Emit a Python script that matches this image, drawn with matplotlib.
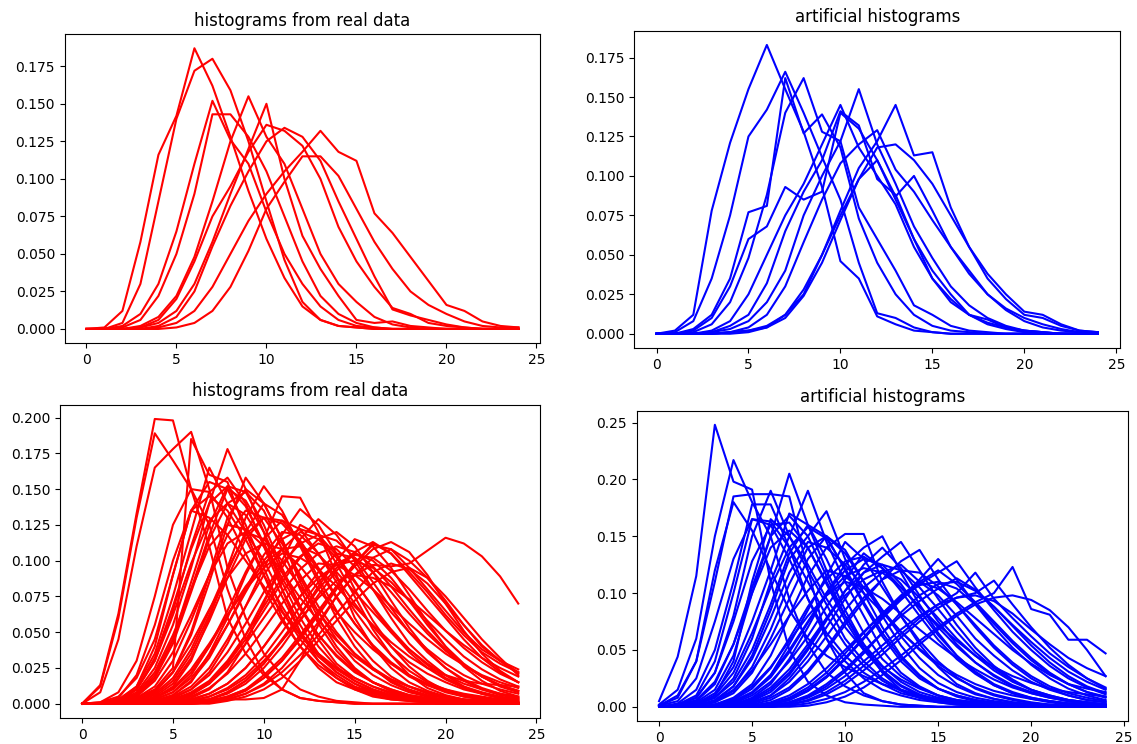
import matplotlib
matplotlib.use("Agg")
import matplotlib.pyplot as plt
import numpy as np

bins = np.arange(25)

# top-left: histograms from real data (red)
real_small = [
    [0, 0.001, 0.012, 0.058, 0.116, 0.142, 0.187, 0.162, 0.128, 0.092, 0.060, 0.034, 0.015, 0.006, 0.002, 0.001, 0, 0, 0, 0, 0, 0, 0, 0, 0],
    [0, 0, 0.004, 0.030, 0.085, 0.140, 0.172, 0.180, 0.159, 0.125, 0.085, 0.046, 0.018, 0.006, 0.002, 0.001, 0, 0, 0, 0, 0, 0, 0, 0, 0],
    [0, 0, 0.002, 0.010, 0.030, 0.065, 0.110, 0.152, 0.126, 0.110, 0.078, 0.050, 0.030, 0.015, 0.006, 0.002, 0.001, 0, 0, 0, 0, 0, 0, 0, 0],
    [0, 0, 0.001, 0.006, 0.022, 0.050, 0.090, 0.143, 0.143, 0.128, 0.105, 0.075, 0.045, 0.022, 0.010, 0.004, 0.001, 0, 0, 0, 0, 0, 0, 0, 0],
    [0, 0, 0, 0.002, 0.008, 0.022, 0.048, 0.085, 0.125, 0.155, 0.128, 0.110, 0.080, 0.050, 0.030, 0.018, 0.008, 0.003, 0.001, 0, 0, 0, 0, 0, 0],
    [0, 0, 0, 0.001, 0.004, 0.012, 0.030, 0.058, 0.090, 0.120, 0.150, 0.100, 0.062, 0.040, 0.022, 0.006, 0.004, 0.005, 0.002, 0.001, 0, 0, 0, 0, 0],
    [0, 0, 0, 0.001, 0.006, 0.020, 0.045, 0.075, 0.095, 0.118, 0.136, 0.132, 0.122, 0.100, 0.068, 0.045, 0.028, 0.014, 0.010, 0.004, 0.002, 0.001, 0, 0, 0],
    [0, 0, 0, 0, 0.002, 0.008, 0.025, 0.055, 0.082, 0.105, 0.125, 0.134, 0.128, 0.112, 0.085, 0.060, 0.035, 0.013, 0.009, 0.006, 0.003, 0.001, 0, 0, 0],
    [0, 0, 0, 0, 0.001, 0.004, 0.012, 0.028, 0.050, 0.072, 0.090, 0.105, 0.118, 0.132, 0.118, 0.112, 0.077, 0.064, 0.048, 0.032, 0.016, 0.012, 0.005, 0.002, 0.001],
    [0, 0, 0, 0, 0, 0.001, 0.004, 0.012, 0.028, 0.052, 0.080, 0.098, 0.115, 0.115, 0.102, 0.080, 0.058, 0.040, 0.025, 0.016, 0.010, 0.005, 0.002, 0.001, 0.001],
]

# top-right: artificial histograms (blue)
fake_small = [
    [0, 0.002, 0.012, 0.078, 0.121, 0.155, 0.183, 0.155, 0.128, 0.093, 0.046, 0.035, 0.011, 0.006, 0.002, 0.001, 0, 0, 0, 0, 0, 0, 0, 0, 0],
    [0, 0.001, 0.008, 0.035, 0.075, 0.125, 0.142, 0.166, 0.140, 0.112, 0.085, 0.045, 0.013, 0.010, 0.004, 0.001, 0, 0, 0, 0, 0, 0, 0, 0, 0],
    [0, 0, 0.003, 0.012, 0.035, 0.077, 0.081, 0.162, 0.127, 0.139, 0.118, 0.073, 0.045, 0.025, 0.012, 0.005, 0.002, 0.001, 0, 0, 0, 0, 0, 0, 0],
    [0, 0, 0.001, 0.006, 0.020, 0.048, 0.088, 0.140, 0.162, 0.128, 0.122, 0.080, 0.060, 0.040, 0.018, 0.012, 0.005, 0.002, 0.001, 0, 0, 0, 0, 0, 0],
    [0, 0, 0, 0.002, 0.008, 0.025, 0.050, 0.075, 0.095, 0.120, 0.145, 0.118, 0.100, 0.082, 0.055, 0.035, 0.022, 0.012, 0.006, 0.003, 0.001, 0, 0, 0, 0],
    [0, 0, 0, 0.001, 0.005, 0.012, 0.032, 0.065, 0.090, 0.110, 0.141, 0.132, 0.098, 0.088, 0.060, 0.040, 0.025, 0.012, 0.009, 0.004, 0.002, 0.001, 0, 0, 0],
    [0, 0, 0, 0.001, 0.003, 0.008, 0.020, 0.040, 0.075, 0.100, 0.122, 0.155, 0.120, 0.095, 0.068, 0.048, 0.030, 0.018, 0.010, 0.005, 0.002, 0.001, 0, 0, 0],
    [0, 0, 0, 0, 0.001, 0.002, 0.005, 0.012, 0.025, 0.050, 0.078, 0.105, 0.122, 0.145, 0.113, 0.115, 0.080, 0.055, 0.035, 0.022, 0.012, 0.010, 0.005, 0.002, 0.001],
    [0, 0, 0, 0, 0.001, 0.004, 0.012, 0.030, 0.058, 0.085, 0.108, 0.120, 0.129, 0.104, 0.090, 0.072, 0.055, 0.040, 0.025, 0.015, 0.008, 0.004, 0.002, 0.001, 0],
    [0, 0, 0.002, 0.010, 0.030, 0.060, 0.068, 0.093, 0.085, 0.090, 0.140, 0.130, 0.110, 0.085, 0.060, 0.035, 0.020, 0.012, 0.007, 0.004, 0.002, 0.001, 0, 0, 0],
    [0, 0, 0, 0, 0, 0.001, 0.004, 0.012, 0.028, 0.050, 0.075, 0.098, 0.110, 0.087, 0.100, 0.078, 0.055, 0.038, 0.025, 0.016, 0.010, 0.006, 0.003, 0.001, 0.001],
    [0, 0, 0, 0, 0.001, 0.002, 0.004, 0.010, 0.024, 0.045, 0.072, 0.098, 0.118, 0.120, 0.110, 0.095, 0.075, 0.055, 0.038, 0.025, 0.014, 0.012, 0.006, 0.002, 0.001],
]

# bottom-left: histograms from real data, bigger set (red)
real_big = [
    [0, 0.013, 0.063, 0.133, 0.199, 0.198, 0.150, 0.110, 0.060, 0.035, 0.020, 0.010, 0.004, 0.002, 0.001, 0, 0, 0, 0, 0, 0, 0, 0, 0, 0],
    [0, 0.012, 0.060, 0.130, 0.189, 0.170, 0.150, 0.125, 0.080, 0.045, 0.022, 0.010, 0.004, 0.002, 0.001, 0, 0, 0, 0, 0, 0, 0, 0, 0, 0],
    [0, 0.008, 0.045, 0.110, 0.165, 0.178, 0.190, 0.150, 0.095, 0.060, 0.035, 0.020, 0.010, 0.005, 0.002, 0.001, 0, 0, 0, 0, 0, 0, 0, 0, 0],
    [0, 0, 0.001, 0.004, 0.010, 0.025, 0.185, 0.160, 0.155, 0.120, 0.090, 0.060, 0.040, 0.025, 0.015, 0.010, 0.005, 0.003, 0.002, 0.001, 0, 0, 0, 0, 0],
    [0, 0, 0.002, 0.008, 0.025, 0.055, 0.095, 0.140, 0.178, 0.150, 0.120, 0.080, 0.050, 0.030, 0.020, 0.012, 0.008, 0.005, 0.003, 0.002, 0.001, 0, 0, 0, 0],
    [0, 0, 0.003, 0.012, 0.035, 0.075, 0.120, 0.165, 0.140, 0.120, 0.100, 0.075, 0.050, 0.035, 0.025, 0.018, 0.012, 0.008, 0.004, 0.002, 0.001, 0, 0, 0, 0],
    [0, 0.001, 0.005, 0.018, 0.045, 0.090, 0.135, 0.155, 0.150, 0.125, 0.095, 0.065, 0.045, 0.030, 0.018, 0.010, 0.006, 0.003, 0.002, 0.001, 0, 0, 0, 0, 0],
    [0, 0, 0.002, 0.010, 0.030, 0.065, 0.110, 0.148, 0.158, 0.140, 0.110, 0.080, 0.055, 0.035, 0.022, 0.014, 0.008, 0.005, 0.003, 0.002, 0.001, 0, 0, 0, 0],
    [0, 0, 0.001, 0.005, 0.018, 0.045, 0.085, 0.125, 0.152, 0.148, 0.125, 0.095, 0.068, 0.045, 0.028, 0.018, 0.012, 0.007, 0.004, 0.002, 0.001, 0, 0, 0, 0],
    [0, 0, 0, 0.002, 0.008, 0.022, 0.050, 0.090, 0.130, 0.150, 0.140, 0.115, 0.085, 0.060, 0.040, 0.025, 0.015, 0.009, 0.005, 0.003, 0.001, 0, 0, 0, 0],
    [0, 0, 0, 0.001, 0.004, 0.012, 0.030, 0.060, 0.095, 0.130, 0.152, 0.135, 0.110, 0.085, 0.060, 0.040, 0.025, 0.015, 0.009, 0.005, 0.002, 0.001, 0, 0, 0],
    [0, 0, 0, 0, 0.002, 0.006, 0.015, 0.035, 0.060, 0.090, 0.115, 0.145, 0.144, 0.120, 0.090, 0.060, 0.040, 0.025, 0.015, 0.009, 0.005, 0.002, 0.001, 0, 0],
    [0, 0, 0, 0, 0.001, 0.004, 0.010, 0.022, 0.042, 0.068, 0.095, 0.118, 0.136, 0.125, 0.105, 0.080, 0.058, 0.040, 0.026, 0.016, 0.009, 0.005, 0.003, 0.002, 0.001],
    [0, 0, 0, 0, 0, 0.002, 0.006, 0.014, 0.028, 0.048, 0.072, 0.095, 0.115, 0.129, 0.118, 0.100, 0.080, 0.060, 0.042, 0.030, 0.020, 0.012, 0.007, 0.004, 0.002],
    [0, 0, 0, 0, 0, 0, 0.001, 0.003, 0.008, 0.016, 0.028, 0.045, 0.062, 0.080, 0.095, 0.106, 0.113, 0.105, 0.090, 0.075, 0.060, 0.045, 0.032, 0.022, 0.015],
    [0, 0, 0, 0, 0, 0, 0.001, 0.002, 0.005, 0.010, 0.020, 0.032, 0.048, 0.065, 0.082, 0.098, 0.111, 0.108, 0.095, 0.080, 0.065, 0.050, 0.038, 0.030, 0.024],
    [0, 0, 0, 0, 0, 0, 0, 0.001, 0.003, 0.007, 0.014, 0.025, 0.040, 0.057, 0.075, 0.090, 0.102, 0.108, 0.100, 0.088, 0.072, 0.055, 0.040, 0.030, 0.022],
    [0, 0, 0, 0, 0, 0.002, 0.003, 0.003, 0.003, 0.003, 0.004, 0.010, 0.030, 0.055, 0.075, 0.090, 0.097, 0.096, 0.098, 0.107, 0.116, 0.112, 0.103, 0.089, 0.070],
    [0, 0, 0, 0, 0, 0.001, 0.003, 0.007, 0.014, 0.025, 0.040, 0.058, 0.075, 0.088, 0.097, 0.100, 0.095, 0.085, 0.072, 0.058, 0.045, 0.033, 0.024, 0.017, 0.012],
    [0, 0, 0, 0, 0.001, 0.003, 0.007, 0.015, 0.028, 0.045, 0.065, 0.085, 0.102, 0.115, 0.120, 0.110, 0.092, 0.072, 0.053, 0.037, 0.025, 0.016, 0.010, 0.006, 0.004],
    [0, 0, 0.001, 0.004, 0.012, 0.030, 0.058, 0.090, 0.118, 0.135, 0.130, 0.112, 0.090, 0.068, 0.050, 0.035, 0.024, 0.016, 0.010, 0.006, 0.004, 0.002, 0.001, 0, 0],
    [0, 0, 0, 0.002, 0.006, 0.016, 0.035, 0.062, 0.092, 0.120, 0.140, 0.132, 0.112, 0.088, 0.065, 0.045, 0.030, 0.019, 0.012, 0.007, 0.004, 0.002, 0.001, 0, 0],
    [0, 0, 0, 0.001, 0.003, 0.008, 0.020, 0.040, 0.065, 0.092, 0.115, 0.128, 0.122, 0.105, 0.085, 0.065, 0.048, 0.034, 0.023, 0.015, 0.010, 0.006, 0.004, 0.002, 0.001],
    [0, 0, 0, 0, 0.002, 0.005, 0.012, 0.025, 0.045, 0.068, 0.090, 0.108, 0.120, 0.115, 0.102, 0.085, 0.068, 0.052, 0.038, 0.027, 0.018, 0.012, 0.008, 0.005, 0.003],
    [0, 0, 0, 0, 0.001, 0.003, 0.008, 0.016, 0.030, 0.048, 0.068, 0.088, 0.103, 0.112, 0.108, 0.096, 0.080, 0.064, 0.050, 0.038, 0.028, 0.020, 0.014, 0.010, 0.007],
    [0, 0.001, 0.008, 0.030, 0.075, 0.125, 0.150, 0.148, 0.130, 0.105, 0.080, 0.058, 0.040, 0.027, 0.018, 0.011, 0.007, 0.004, 0.002, 0.001, 0, 0, 0, 0, 0],
    [0, 0, 0.004, 0.020, 0.055, 0.100, 0.135, 0.145, 0.135, 0.115, 0.090, 0.068, 0.048, 0.033, 0.022, 0.014, 0.009, 0.005, 0.003, 0.002, 0.001, 0, 0, 0, 0],
    [0, 0, 0.002, 0.010, 0.030, 0.062, 0.098, 0.128, 0.140, 0.132, 0.112, 0.088, 0.066, 0.048, 0.034, 0.023, 0.015, 0.010, 0.006, 0.004, 0.002, 0.001, 0, 0, 0],
    [0, 0, 0.001, 0.005, 0.016, 0.036, 0.062, 0.090, 0.112, 0.120, 0.115, 0.100, 0.082, 0.064, 0.048, 0.035, 0.025, 0.017, 0.012, 0.008, 0.005, 0.003, 0.002, 0.001, 0.001],
    [0, 0, 0, 0.003, 0.009, 0.022, 0.042, 0.066, 0.088, 0.105, 0.112, 0.108, 0.096, 0.080, 0.064, 0.050, 0.038, 0.028, 0.020, 0.014, 0.010, 0.007, 0.005, 0.003, 0.002],
    [0, 0, 0, 0.001, 0.004, 0.011, 0.024, 0.042, 0.062, 0.080, 0.095, 0.105, 0.102, 0.094, 0.082, 0.068, 0.055, 0.043, 0.033, 0.025, 0.020, 0.016, 0.014, 0.013, 0.012],
    [0, 0, 0, 0, 0, 0, 0.001, 0.003, 0.007, 0.014, 0.025, 0.040, 0.058, 0.076, 0.093, 0.105, 0.100, 0.088, 0.072, 0.055, 0.040, 0.028, 0.019, 0.012, 0.008],
    [0, 0, 0, 0, 0, 0, 0, 0.001, 0.004, 0.009, 0.018, 0.030, 0.045, 0.062, 0.080, 0.098, 0.112, 0.105, 0.092, 0.078, 0.062, 0.048, 0.036, 0.028, 0.022],
    [0, 0, 0, 0, 0, 0, 0, 0, 0.002, 0.005, 0.010, 0.018, 0.030, 0.044, 0.058, 0.072, 0.084, 0.092, 0.095, 0.088, 0.075, 0.060, 0.045, 0.032, 0.020],
    [0, 0, 0, 0, 0, 0.001, 0.004, 0.010, 0.022, 0.042, 0.070, 0.100, 0.125, 0.118, 0.098, 0.075, 0.052, 0.034, 0.020, 0.011, 0.006, 0.003, 0.002, 0.001, 0],
    [0, 0, 0.002, 0.012, 0.040, 0.090, 0.135, 0.130, 0.118, 0.100, 0.082, 0.064, 0.048, 0.035, 0.024, 0.016, 0.010, 0.006, 0.004, 0.002, 0.001, 0, 0, 0, 0],
    [0, 0, 0, 0, 0, 0.002, 0.005, 0.011, 0.021, 0.035, 0.052, 0.070, 0.086, 0.098, 0.097, 0.090, 0.080, 0.068, 0.056, 0.045, 0.035, 0.027, 0.020, 0.015, 0.011],
    [0, 0, 0, 0, 0, 0.001, 0.003, 0.007, 0.014, 0.025, 0.040, 0.057, 0.075, 0.092, 0.105, 0.102, 0.092, 0.078, 0.063, 0.049, 0.037, 0.027, 0.019, 0.013, 0.009],
    [0, 0, 0, 0, 0.002, 0.006, 0.016, 0.032, 0.055, 0.080, 0.104, 0.120, 0.118, 0.105, 0.088, 0.070, 0.054, 0.040, 0.029, 0.021, 0.015, 0.010, 0.007, 0.004, 0.003],
    [0, 0, 0, 0.002, 0.008, 0.022, 0.048, 0.085, 0.125, 0.158, 0.140, 0.115, 0.088, 0.064, 0.045, 0.030, 0.020, 0.013, 0.008, 0.005, 0.003, 0.002, 0.001, 0, 0],
    [0, 0, 0, 0, 0, 0, 0.002, 0.005, 0.010, 0.018, 0.030, 0.044, 0.059, 0.074, 0.086, 0.090, 0.088, 0.082, 0.073, 0.062, 0.051, 0.041, 0.032, 0.025, 0.019],
    [0, 0, 0, 0, 0, 0, 0, 0.001, 0.003, 0.007, 0.013, 0.022, 0.034, 0.048, 0.063, 0.078, 0.092, 0.098, 0.094, 0.084, 0.070, 0.055, 0.041, 0.030, 0.021],
    [0, 0, 0.001, 0.007, 0.022, 0.048, 0.080, 0.110, 0.125, 0.122, 0.110, 0.092, 0.074, 0.058, 0.044, 0.033, 0.024, 0.017, 0.012, 0.008, 0.005, 0.003, 0.002, 0.001, 0],
    [0, 0, 0, 0.001, 0.005, 0.014, 0.032, 0.058, 0.088, 0.115, 0.130, 0.126, 0.112, 0.093, 0.074, 0.056, 0.041, 0.029, 0.020, 0.013, 0.009, 0.006, 0.004, 0.002, 0.001],
    [0, 0, 0, 0, 0, 0, 0.001, 0.003, 0.008, 0.016, 0.028, 0.044, 0.062, 0.082, 0.100, 0.115, 0.110, 0.095, 0.076, 0.057, 0.040, 0.026, 0.016, 0.009, 0.005],
    [0, 0, 0.001, 0.006, 0.020, 0.045, 0.080, 0.118, 0.150, 0.142, 0.120, 0.092, 0.068, 0.048, 0.033, 0.022, 0.015, 0.010, 0.006, 0.004, 0.002, 0.001, 0, 0, 0],
    [0, 0, 0, 0.001, 0.004, 0.010, 0.022, 0.040, 0.062, 0.082, 0.098, 0.108, 0.110, 0.104, 0.092, 0.078, 0.064, 0.050, 0.038, 0.028, 0.020, 0.014, 0.010, 0.007, 0.005],
    [0, 0, 0, 0, 0.001, 0.003, 0.007, 0.014, 0.026, 0.042, 0.060, 0.078, 0.094, 0.105, 0.110, 0.106, 0.096, 0.082, 0.066, 0.051, 0.038, 0.027, 0.019, 0.013, 0.009],
    [0, 0, 0.002, 0.010, 0.032, 0.068, 0.108, 0.140, 0.152, 0.138, 0.112, 0.085, 0.060, 0.040, 0.026, 0.016, 0.010, 0.006, 0.003, 0.002, 0.001, 0, 0, 0, 0],
    [0, 0, 0, 0.001, 0.003, 0.008, 0.018, 0.034, 0.055, 0.078, 0.100, 0.115, 0.122, 0.118, 0.104, 0.086, 0.067, 0.050, 0.036, 0.025, 0.017, 0.011, 0.007, 0.004, 0.003],
    [0, 0, 0, 0, 0, 0.001, 0.002, 0.005, 0.011, 0.020, 0.033, 0.050, 0.068, 0.085, 0.098, 0.104, 0.102, 0.093, 0.080, 0.065, 0.051, 0.039, 0.029, 0.021, 0.015],
    [0, 0, 0, 0.002, 0.007, 0.018, 0.038, 0.065, 0.094, 0.118, 0.130, 0.128, 0.114, 0.095, 0.075, 0.056, 0.040, 0.028, 0.019, 0.013, 0.008, 0.005, 0.003, 0.002, 0.001],
    [0, 0, 0, 0, 0, 0, 0.001, 0.002, 0.005, 0.010, 0.018, 0.030, 0.046, 0.064, 0.082, 0.096, 0.108, 0.113, 0.106, 0.090, 0.070, 0.051, 0.035, 0.023, 0.015],
    [0, 0, 0.001, 0.005, 0.018, 0.042, 0.078, 0.115, 0.140, 0.148, 0.135, 0.108, 0.080, 0.056, 0.037, 0.024, 0.015, 0.009, 0.005, 0.003, 0.002, 0.001, 0, 0, 0],
    [0, 0, 0, 0, 0.001, 0.004, 0.010, 0.020, 0.036, 0.056, 0.078, 0.098, 0.112, 0.118, 0.114, 0.102, 0.085, 0.067, 0.050, 0.036, 0.025, 0.017, 0.011, 0.007, 0.004],
]

# bottom-right: artificial histograms, bigger set (blue)
fake_big = [
    [0.005, 0.044, 0.115, 0.248, 0.198, 0.191, 0.110, 0.050, 0.022, 0.010, 0.004, 0.002, 0.001, 0, 0, 0, 0, 0, 0, 0, 0, 0, 0, 0, 0],
    [0.002, 0.015, 0.060, 0.150, 0.217, 0.180, 0.150, 0.095, 0.055, 0.030, 0.018, 0.010, 0.005, 0.002, 0.001, 0, 0, 0, 0, 0, 0, 0, 0, 0, 0],
    [0.001, 0.010, 0.040, 0.110, 0.185, 0.187, 0.187, 0.185, 0.120, 0.060, 0.030, 0.012, 0.005, 0.002, 0.001, 0, 0, 0, 0, 0, 0, 0, 0, 0, 0],
    [0, 0.002, 0.008, 0.030, 0.080, 0.150, 0.190, 0.150, 0.120, 0.090, 0.060, 0.040, 0.025, 0.015, 0.010, 0.006, 0.003, 0.002, 0.001, 0, 0, 0, 0, 0, 0],
    [0, 0.001, 0.004, 0.015, 0.045, 0.100, 0.150, 0.205, 0.160, 0.120, 0.085, 0.055, 0.030, 0.015, 0.008, 0.004, 0.002, 0.001, 0, 0, 0, 0, 0, 0, 0],
    [0, 0, 0.002, 0.008, 0.025, 0.060, 0.110, 0.150, 0.190, 0.145, 0.110, 0.080, 0.050, 0.030, 0.018, 0.010, 0.005, 0.003, 0.001, 0, 0, 0, 0, 0, 0],
    [0, 0, 0.001, 0.005, 0.018, 0.045, 0.085, 0.130, 0.150, 0.172, 0.130, 0.100, 0.070, 0.045, 0.028, 0.016, 0.009, 0.005, 0.003, 0.001, 0, 0, 0, 0, 0],
    [0, 0, 0, 0.002, 0.008, 0.020, 0.045, 0.080, 0.115, 0.140, 0.152, 0.152, 0.110, 0.080, 0.055, 0.035, 0.020, 0.012, 0.007, 0.004, 0.002, 0.001, 0, 0, 0],
    [0, 0, 0, 0, 0.002, 0.008, 0.020, 0.042, 0.070, 0.100, 0.125, 0.140, 0.150, 0.118, 0.090, 0.065, 0.045, 0.030, 0.019, 0.012, 0.007, 0.004, 0.002, 0.001, 0],
    [0, 0, 0, 0, 0.001, 0.004, 0.010, 0.025, 0.045, 0.070, 0.095, 0.118, 0.132, 0.145, 0.120, 0.095, 0.072, 0.052, 0.036, 0.024, 0.015, 0.009, 0.005, 0.003, 0.002],
    [0, 0, 0, 0, 0, 0.002, 0.006, 0.015, 0.030, 0.050, 0.072, 0.093, 0.112, 0.128, 0.138, 0.112, 0.090, 0.070, 0.052, 0.037, 0.025, 0.016, 0.010, 0.006, 0.004],
    [0, 0, 0, 0, 0, 0, 0.002, 0.006, 0.014, 0.026, 0.042, 0.060, 0.078, 0.094, 0.108, 0.118, 0.128, 0.105, 0.085, 0.066, 0.050, 0.036, 0.025, 0.017, 0.011],
    [0, 0, 0, 0, 0, 0, 0, 0.002, 0.005, 0.011, 0.020, 0.032, 0.046, 0.061, 0.075, 0.087, 0.096, 0.100, 0.111, 0.090, 0.070, 0.052, 0.037, 0.025, 0.016],
    [0, 0, 0, 0, 0, 0, 0, 0.001, 0.003, 0.007, 0.013, 0.022, 0.033, 0.045, 0.058, 0.070, 0.082, 0.092, 0.100, 0.123, 0.086, 0.081, 0.059, 0.059, 0.047],
    [0, 0, 0, 0, 0, 0, 0.001, 0.003, 0.008, 0.016, 0.027, 0.040, 0.054, 0.068, 0.080, 0.090, 0.096, 0.098, 0.093, 0.082, 0.068, 0.055, 0.043, 0.034, 0.027],
    [0.001, 0.005, 0.025, 0.075, 0.130, 0.165, 0.160, 0.130, 0.095, 0.065, 0.045, 0.030, 0.020, 0.012, 0.008, 0.005, 0.003, 0.002, 0.001, 0, 0, 0, 0, 0, 0],
    [0, 0.003, 0.015, 0.050, 0.110, 0.178, 0.178, 0.140, 0.095, 0.060, 0.040, 0.025, 0.015, 0.010, 0.006, 0.004, 0.002, 0.001, 0, 0, 0, 0, 0, 0, 0],
    [0, 0, 0.003, 0.012, 0.035, 0.075, 0.120, 0.170, 0.160, 0.130, 0.095, 0.065, 0.042, 0.027, 0.017, 0.010, 0.006, 0.004, 0.002, 0.001, 0, 0, 0, 0, 0],
    [0, 0, 0.002, 0.008, 0.022, 0.050, 0.090, 0.135, 0.160, 0.150, 0.120, 0.090, 0.062, 0.040, 0.025, 0.016, 0.010, 0.006, 0.004, 0.002, 0.001, 0, 0, 0, 0],
    [0, 0, 0.001, 0.004, 0.012, 0.030, 0.060, 0.095, 0.130, 0.150, 0.135, 0.110, 0.085, 0.062, 0.043, 0.028, 0.018, 0.011, 0.007, 0.004, 0.002, 0.001, 0, 0, 0],
    [0, 0.001, 0.006, 0.022, 0.055, 0.100, 0.140, 0.155, 0.140, 0.110, 0.080, 0.055, 0.036, 0.022, 0.013, 0.008, 0.005, 0.003, 0.002, 0.001, 0, 0, 0, 0, 0],
    [0, 0, 0, 0.001, 0.005, 0.013, 0.028, 0.050, 0.075, 0.100, 0.120, 0.130, 0.125, 0.108, 0.085, 0.063, 0.045, 0.031, 0.020, 0.013, 0.008, 0.005, 0.003, 0.002, 0.001],
    [0, 0, 0, 0, 0.002, 0.007, 0.017, 0.033, 0.055, 0.078, 0.098, 0.112, 0.120, 0.112, 0.096, 0.078, 0.060, 0.045, 0.032, 0.022, 0.015, 0.010, 0.006, 0.004, 0.002],
    [0, 0, 0, 0, 0.001, 0.004, 0.010, 0.022, 0.040, 0.062, 0.085, 0.105, 0.118, 0.125, 0.110, 0.098, 0.080, 0.060, 0.045, 0.032, 0.022, 0.015, 0.010, 0.006, 0.004],
    [0, 0, 0, 0, 0, 0.001, 0.003, 0.008, 0.017, 0.030, 0.047, 0.065, 0.082, 0.098, 0.110, 0.120, 0.108, 0.092, 0.075, 0.058, 0.043, 0.030, 0.020, 0.013, 0.008],
    [0, 0, 0, 0, 0, 0, 0.001, 0.004, 0.010, 0.020, 0.033, 0.049, 0.065, 0.080, 0.093, 0.104, 0.113, 0.103, 0.088, 0.072, 0.057, 0.043, 0.031, 0.022, 0.015],
    [0, 0, 0, 0, 0, 0, 0, 0.002, 0.006, 0.013, 0.023, 0.036, 0.050, 0.064, 0.078, 0.090, 0.100, 0.118, 0.095, 0.078, 0.062, 0.047, 0.035, 0.025, 0.017],
    [0, 0, 0, 0.002, 0.007, 0.018, 0.035, 0.058, 0.080, 0.098, 0.110, 0.105, 0.095, 0.082, 0.068, 0.055, 0.043, 0.033, 0.024, 0.017, 0.012, 0.008, 0.005, 0.003, 0.002],
    [0, 0, 0.002, 0.010, 0.040, 0.110, 0.165, 0.150, 0.125, 0.095, 0.070, 0.050, 0.035, 0.024, 0.016, 0.010, 0.006, 0.004, 0.002, 0.001, 0, 0, 0, 0, 0],
    [0, 0, 0.001, 0.006, 0.018, 0.042, 0.078, 0.118, 0.145, 0.140, 0.125, 0.105, 0.085, 0.066, 0.050, 0.036, 0.025, 0.017, 0.011, 0.007, 0.004, 0.002, 0.001, 0, 0],
    [0, 0.002, 0.010, 0.040, 0.100, 0.165, 0.163, 0.140, 0.110, 0.080, 0.055, 0.036, 0.023, 0.014, 0.008, 0.005, 0.003, 0.002, 0.001, 0, 0, 0, 0, 0, 0],
    [0, 0, 0, 0, 0, 0, 0, 0, 0.001, 0.004, 0.009, 0.017, 0.028, 0.041, 0.055, 0.068, 0.080, 0.090, 0.096, 0.098, 0.094, 0.085, 0.070, 0.050, 0.027],
    [0, 0, 0, 0.001, 0.004, 0.012, 0.028, 0.055, 0.085, 0.115, 0.145, 0.130, 0.105, 0.080, 0.058, 0.040, 0.026, 0.016, 0.010, 0.006, 0.003, 0.002, 0.001, 0, 0],
    [0, 0, 0, 0, 0, 0.001, 0.004, 0.010, 0.020, 0.034, 0.050, 0.066, 0.082, 0.096, 0.110, 0.104, 0.092, 0.078, 0.064, 0.050, 0.038, 0.028, 0.020, 0.016, 0.013],
    [0, 0, 0.001, 0.005, 0.015, 0.032, 0.055, 0.080, 0.102, 0.120, 0.115, 0.100, 0.083, 0.066, 0.051, 0.038, 0.028, 0.020, 0.014, 0.010, 0.007, 0.005, 0.003, 0.002, 0.001],
    [0, 0, 0, 0, 0, 0, 0.002, 0.006, 0.014, 0.026, 0.042, 0.060, 0.078, 0.095, 0.112, 0.130, 0.112, 0.090, 0.070, 0.052, 0.037, 0.025, 0.016, 0.010, 0.006],
    [0, 0, 0, 0, 0.001, 0.005, 0.013, 0.028, 0.050, 0.076, 0.102, 0.125, 0.140, 0.122, 0.098, 0.075, 0.055, 0.039, 0.027, 0.018, 0.012, 0.008, 0.005, 0.003, 0.002],
    [0.001, 0.008, 0.040, 0.120, 0.180, 0.155, 0.120, 0.085, 0.060, 0.045, 0.035, 0.027, 0.020, 0.015, 0.010, 0.007, 0.005, 0.003, 0.002, 0.001, 0, 0, 0, 0, 0],
    [0, 0, 0, 0, 0.003, 0.010, 0.022, 0.040, 0.062, 0.088, 0.112, 0.135, 0.122, 0.105, 0.088, 0.072, 0.058, 0.045, 0.035, 0.027, 0.021, 0.016, 0.013, 0.011, 0.009],
    [0, 0, 0.002, 0.010, 0.030, 0.065, 0.105, 0.140, 0.158, 0.148, 0.122, 0.092, 0.065, 0.043, 0.027, 0.016, 0.010, 0.006, 0.003, 0.002, 0.001, 0, 0, 0, 0],
    [0, 0, 0, 0.001, 0.004, 0.012, 0.026, 0.048, 0.074, 0.098, 0.115, 0.122, 0.118, 0.105, 0.088, 0.070, 0.053, 0.039, 0.028, 0.019, 0.013, 0.009, 0.006, 0.004, 0.002],
    [0, 0, 0, 0, 0.001, 0.003, 0.008, 0.017, 0.032, 0.052, 0.075, 0.096, 0.112, 0.120, 0.118, 0.106, 0.090, 0.072, 0.054, 0.039, 0.027, 0.018, 0.012, 0.008, 0.005],
    [0, 0.001, 0.008, 0.030, 0.075, 0.128, 0.160, 0.162, 0.140, 0.108, 0.076, 0.050, 0.031, 0.018, 0.010, 0.006, 0.003, 0.002, 0.001, 0, 0, 0, 0, 0, 0],
    [0, 0, 0, 0, 0, 0.001, 0.003, 0.007, 0.015, 0.027, 0.043, 0.061, 0.080, 0.096, 0.107, 0.110, 0.104, 0.090, 0.073, 0.056, 0.041, 0.029, 0.020, 0.013, 0.009],
    [0, 0, 0.001, 0.004, 0.014, 0.035, 0.068, 0.108, 0.140, 0.150, 0.138, 0.110, 0.080, 0.054, 0.034, 0.021, 0.013, 0.008, 0.005, 0.003, 0.002, 0.001, 0, 0, 0],
    [0, 0, 0, 0.002, 0.006, 0.016, 0.034, 0.060, 0.088, 0.112, 0.128, 0.132, 0.122, 0.102, 0.080, 0.059, 0.042, 0.029, 0.019, 0.012, 0.008, 0.005, 0.003, 0.002, 0.001],
    [0, 0, 0, 0, 0, 0, 0.001, 0.004, 0.009, 0.018, 0.031, 0.047, 0.065, 0.083, 0.098, 0.108, 0.110, 0.102, 0.088, 0.071, 0.054, 0.039, 0.027, 0.018, 0.012],
    [0, 0.001, 0.005, 0.020, 0.055, 0.105, 0.150, 0.168, 0.150, 0.115, 0.080, 0.052, 0.032, 0.019, 0.011, 0.006, 0.004, 0.002, 0.001, 0, 0, 0, 0, 0, 0],
    [0, 0, 0, 0, 0.002, 0.006, 0.015, 0.030, 0.052, 0.078, 0.102, 0.118, 0.125, 0.120, 0.105, 0.086, 0.066, 0.048, 0.034, 0.023, 0.015, 0.010, 0.006, 0.004, 0.002],
]

fig = plt.figure(figsize=(11.37, 7.44), dpi=100)

panels = [
    ([0.057, 0.539, 0.418, 0.415], real_small, 'r', 'histograms from real data'),
    ([0.558, 0.532, 0.427, 0.427], fake_small, 'b', 'artificial histograms'),
    ([0.053, 0.035, 0.422, 0.421], real_big, 'r', 'histograms from real data'),
    ([0.560, 0.031, 0.432, 0.417], fake_big, 'b', 'artificial histograms'),
]

for rect, rows, col, title in panels:
    ax = fig.add_axes(rect)
    for row in rows:
        ax.plot(bins, row, color=col)
    ax.set_title(title)

fig.savefig('out.png', dpi=100)
